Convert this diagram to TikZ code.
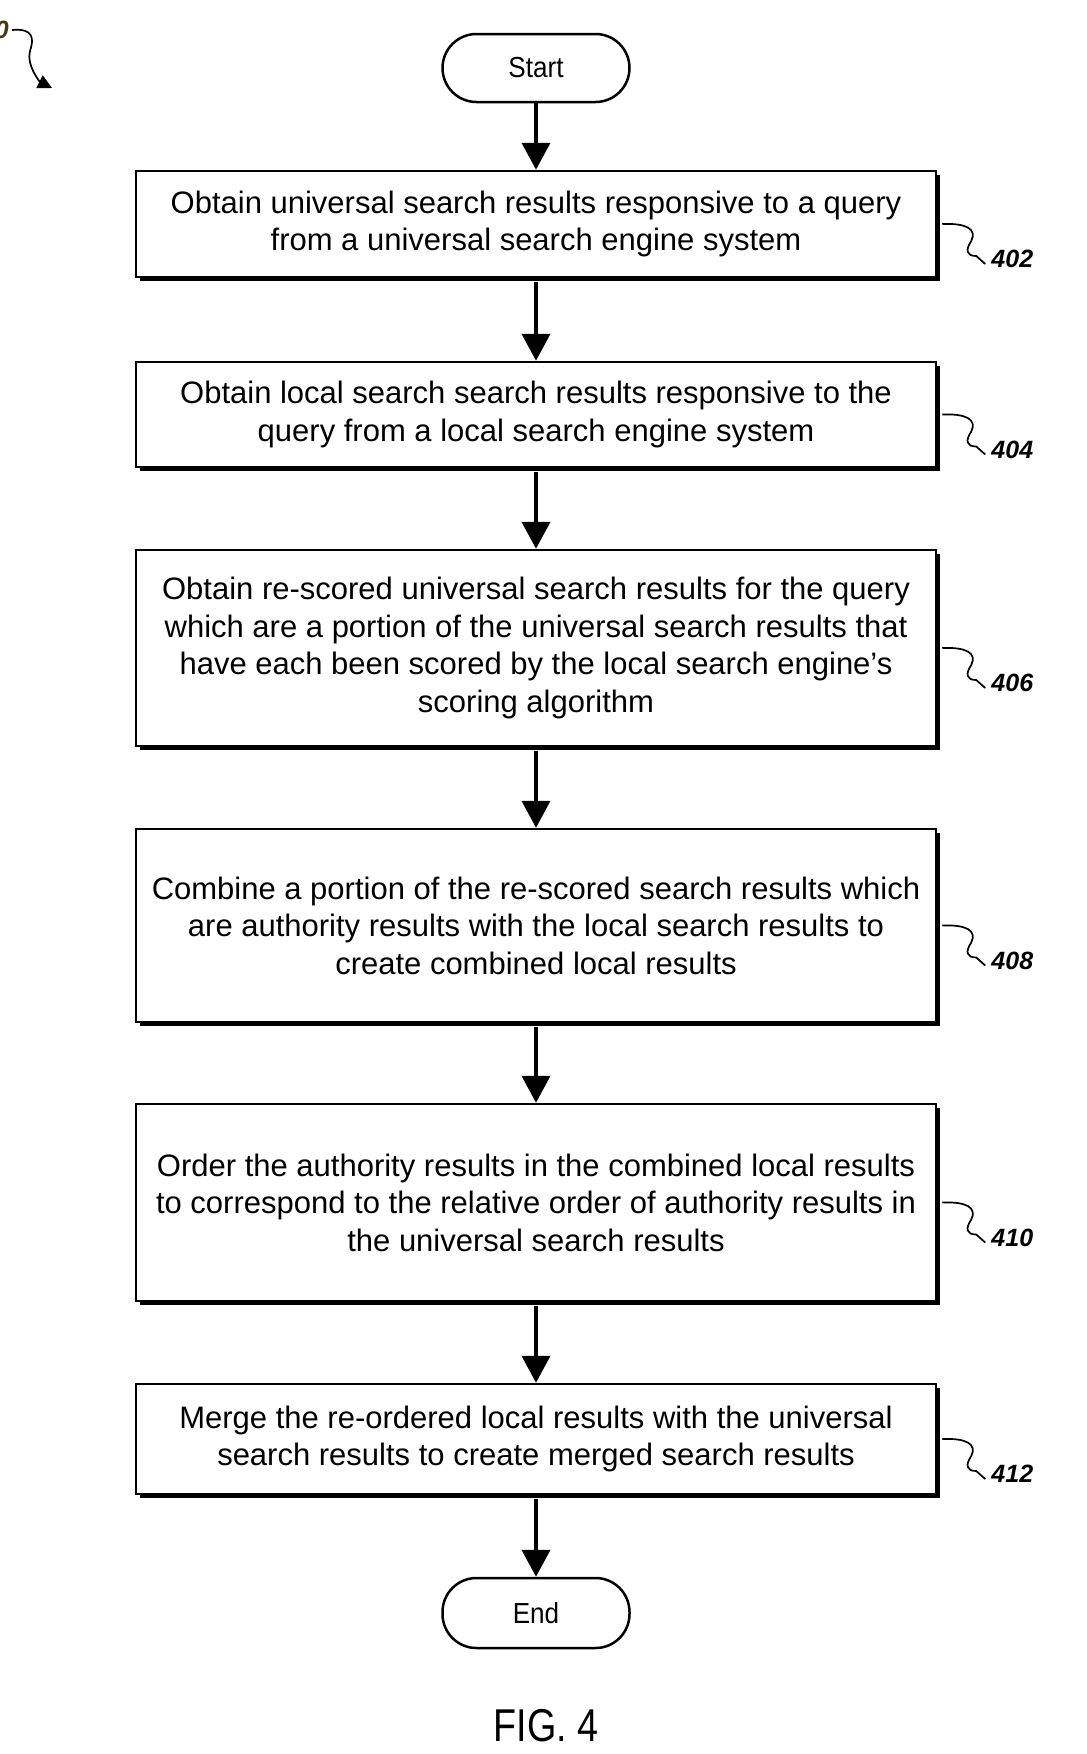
\documentclass[tikz,border=0pt]{standalone}
\usepackage{fontspec}
\setmainfont{Liberation Sans}
\usetikzlibrary{arrows.meta,shadows}
\begin{document}
\begin{tikzpicture}[x=1pt,y=-1pt,
  stepbox/.style={draw, line width=2.5pt, fill=white, minimum width=800pt, inner sep=0pt,
    align=center, font=\fontsize{31}{37.5}\selectfont,
    drop shadow={shadow xshift=4pt, shadow yshift=-4pt, opacity=1, fill=black}},
  term/.style={draw, line width=2.5pt, fill=white, rounded corners=34pt, minimum width=187pt,
    minimum height=68pt, inner sep=0pt, font=\fontsize{29}{32}\selectfont},
  flow/.style={line width=4pt, -{Triangle[width=28pt,length=27pt]}},
  lbl/.style={font=\fontsize{25}{28}\selectfont\bfseries\itshape, inner sep=0pt},
  squig/.style={line width=1.7pt}
]
\useasboundingbox (0,0) rectangle (1087,1754);

% figure reference label
\node[lbl, anchor=east, text={rgb,255:red,70;green,55;blue,15}] (fig) at (9,30) {400};
\draw[squig, -{Triangle[width=14pt,length=14pt]}] ([xshift=3pt]fig.east) .. controls +(22,-2) and +(4,-12) .. ++(18,21)
  .. controls +(-4,14) and +(-12,-6) .. ++(22,37);

\node[term] (start) at (536,68) {\scalebox{0.9}[1]{Start}};

\node[stepbox, minimum height=106pt] (b1) at (536,224)
  {Obtain universal search results responsive to a query\\from a universal search engine system};
\node[stepbox, minimum height=105pt] (b2) at (536,414.5)
  {Obtain local search search results responsive to the\\query from a local search engine system};
\node[stepbox, minimum height=196pt] (b3) at (536,648)
  {Obtain re-scored universal search results for the query\\which are a portion of the universal search results that\\have each been scored by the local search engine's\\scoring algorithm};
\node[stepbox, minimum height=193pt] (b4) at (536,925.5)
  {Combine a portion of the re-scored search results which\\are authority results with the local search results to\\create combined local results};
\node[stepbox, minimum height=197pt] (b5) at (536,1202.5)
  {Order the authority results in the combined local results\\to correspond to the relative order of authority results in\\the universal search results};
\node[stepbox, minimum height=110pt] (b6) at (536,1439)
  {Merge the re-ordered local results with the universal\\search results to create merged search results};

\node[term, minimum height=70pt] (end) at (536,1613) {\scalebox{0.9}[1]{End}};

\node[font=\fontsize{46}{50}\selectfont, inner sep=0pt] (cap) at (546,1726) {\scalebox{0.82}[1]{FIG. 4}};

\draw[flow] (start) -- (b1);
\draw[flow] ([yshift=-4pt]b1.south) -- (b2);
\draw[flow] ([yshift=-4pt]b2.south) -- (b3);
\draw[flow] ([yshift=-4pt]b3.south) -- (b4);
\draw[flow] ([yshift=-4pt]b4.south) -- (b5);
\draw[flow] ([yshift=-4pt]b5.south) -- (b6);
\draw[flow] ([yshift=-4pt]b6.south) -- (end);

% reference numerals
\foreach \b/\n/\t in {b1/l1/402, b2/l2/404, b3/l3/406, b4/l4/408, b5/l5/410, b6/l6/412}{
  \node[lbl, anchor=west] (\n) at ([shift={(54,35)}]\b.east) {\t};
  \draw[squig] ([xshift=5pt]\b.east) .. controls +(24,-1) and +(6,-12) .. ++(29,17)
    .. controls +(-6,9) and +(-10,0) .. ++(5,15) -- ([xshift=-6pt,yshift=-5pt]\n.west);
}
\end{tikzpicture}
\end{document}
